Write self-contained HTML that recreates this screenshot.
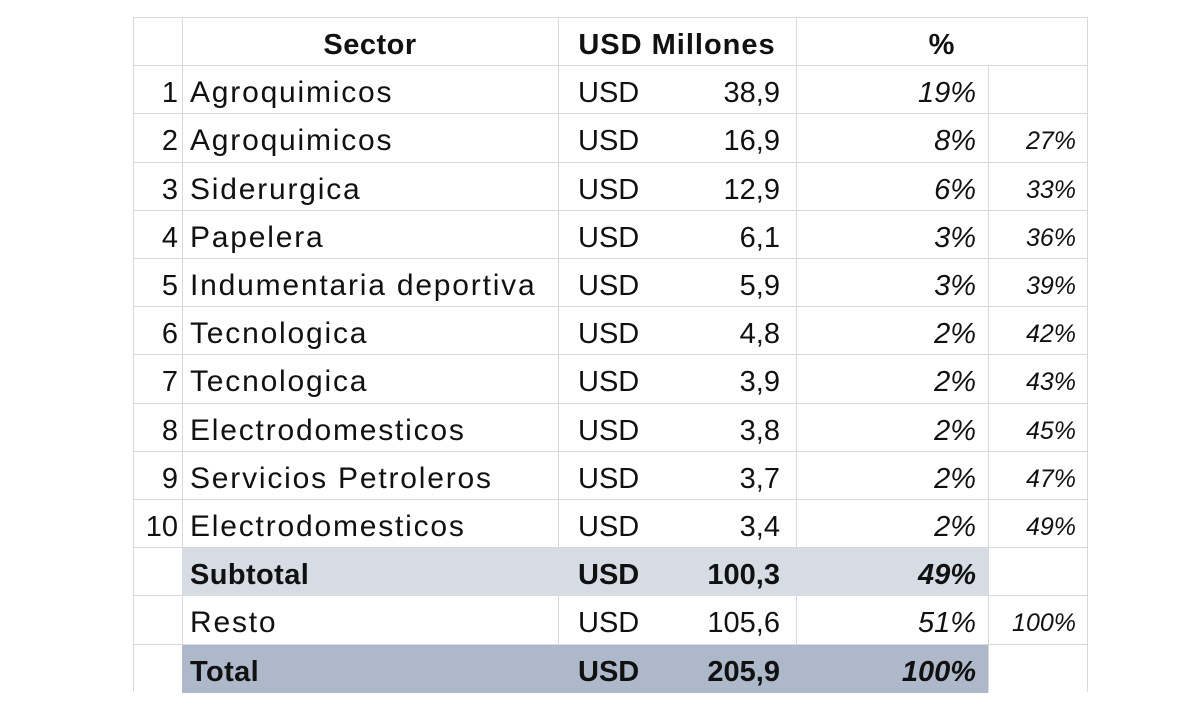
<!DOCTYPE html>
<html><head><meta charset="utf-8"><style>
body{margin:0;width:1200px;height:722px;background:#fff;overflow:hidden;font-family:"Liberation Sans",sans-serif;color:#111}
.c{position:absolute;font-size:29px;line-height:48px;white-space:nowrap}
.s{letter-spacing:1.8px;font-size:30px}
.s.b{letter-spacing:0.4px;font-size:29px}
.r{text-align:right}
.i{font-style:italic}
.b{font-weight:bold}
.h{position:absolute;height:1px;background:#d9d9d9}
.v{position:absolute;width:1px;background:#d9d9d9}
.f{position:absolute}
</style></head><body>
<div id="t"></div>
<script>
const T=17,H=48.2,D=4;
const cols=[133,182,558,796,988,1087];
let h='';
for(let i=0;i<=13;i++)h+=`<div class="h" style="left:133px;top:${Math.round(T+i*H)}px;width:954px"></div>`;
for(const x of cols){const top=(x==988)?T+H:T;h+=`<div class="v" style="left:${x}px;top:${Math.round(top)}px;height:${Math.round(T+14*H-top)}px"></div>`;}
h+=`<div class="f" style="left:182px;top:${Math.round(T+11*H)+1}px;width:806px;height:${Math.round(H)}px;background:#d6dce4"></div>`;
h+=`<div class="f" style="left:182px;top:${Math.round(T+13*H)+1}px;width:806px;height:${Math.round(H)}px;background:#adb9ca"></div>`;
const rows=[
['1','Agroquimicos','38,9','19%',''],
['2','Agroquimicos','16,9','8%','27%'],
['3','Siderurgica','12,9','6%','33%'],
['4','Papelera','6,1','3%','36%'],
['5','Indumentaria deportiva','5,9','3%','39%'],
['6','Tecnologica','4,8','2%','42%'],
['7','Tecnologica','3,9','2%','43%'],
['8','Electrodomesticos','3,8','2%','45%'],
['9','Servicios Petroleros','3,7','2%','47%'],
['10','Electrodomesticos','3,4','2%','49%'],
['','Subtotal','100,3','49%','',1],
['','Resto','105,6','51%','100%'],
['','Total','205,9','100%','',1]];
let y=T+D;
h+=`<div class="c b" style="left:182px;width:376px;top:${y}px;text-align:center;letter-spacing:0.5px">Sector</div>`;
h+=`<div class="c b" style="left:558px;width:238px;top:${y}px;text-align:center;letter-spacing:1px">USD Millones</div>`;
h+=`<div class="c b" style="left:796px;width:291px;top:${y}px;text-align:center">%</div>`;
rows.forEach((r,i)=>{const t=T+(i+1)*H+D;const b=r[5]?' b':'';
h+=`<div class="c r" style="left:133px;width:45px;top:${t}px">${r[0]}</div>`;
h+=`<div class="c s${b}" style="left:190px;top:${t}px">${r[1]}</div>`;
h+=`<div class="c${b}" style="left:578px;top:${t}px">USD</div>`;
h+=`<div class="c r${b}" style="left:600px;width:180px;top:${t}px">${r[2]}</div>`;
h+=`<div class="c r i${b}" style="left:800px;width:176px;top:${t}px">${r[3]}</div>`;
h+=`<div class="c r i" style="left:990px;width:86px;top:${t}px;font-size:25px">${r[4]}</div>`;
});
document.getElementById('t').innerHTML=h;
</script>
</body></html>
